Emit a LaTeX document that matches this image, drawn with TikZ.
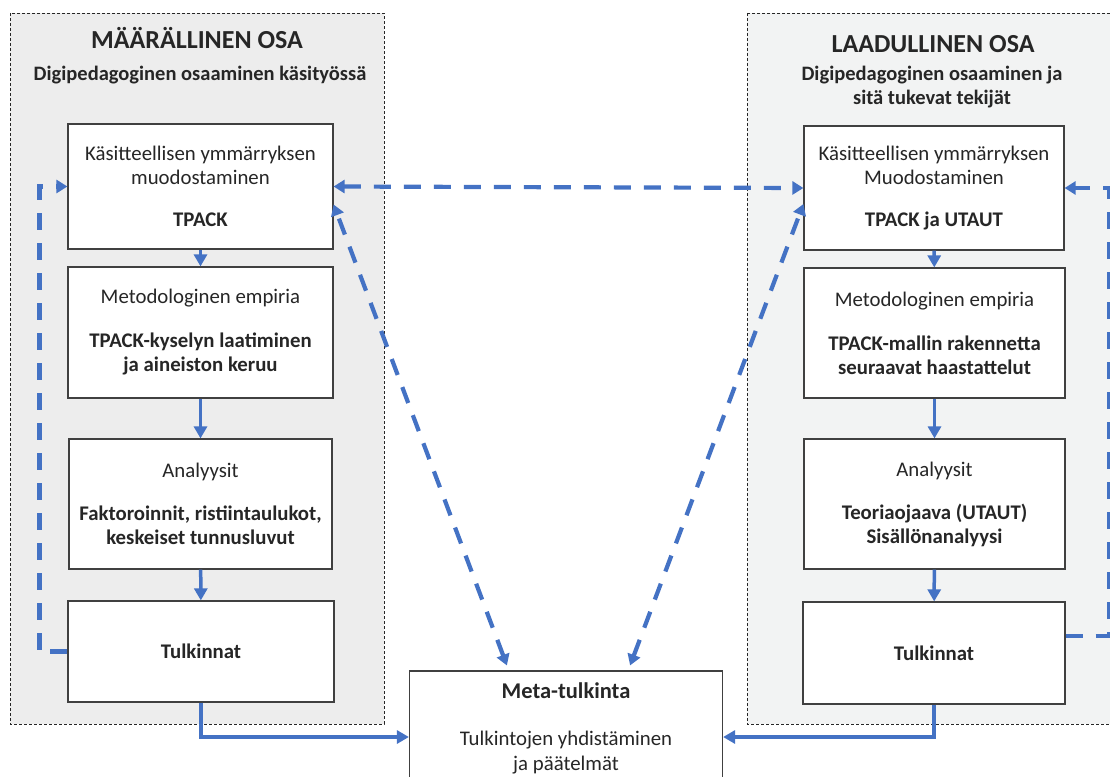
\documentclass[tikz,border=0pt]{standalone}
\usepackage{fontspec}
\setmainfont{Carlito}
\usetikzlibrary{arrows.meta}
\definecolor{flowblue}{HTML}{4472C4}
\definecolor{boxline}{HTML}{404040}
\definecolor{txt}{HTML}{262626}
\definecolor{panelL}{HTML}{EDEDED}
\definecolor{panelR}{HTML}{F2F3F3}
\begin{document}
\begin{tikzpicture}[x=1pt,y=-1pt,
  panel/.style={draw=black!85, line width=0.8pt, dash pattern=on 3pt off 2pt},
  stagebox/.style={draw=boxline, fill=white, line width=1.2pt, inner sep=0pt,
    align=center, text=txt, font=\fontsize{20.8}{24}\selectfont},
  title/.style={font=\bfseries\fontsize{26}{30}\selectfont, text=txt},
  subtitle/.style={font=\bfseries\fontsize{20.5}{23.5}\selectfont, text=txt, align=center},
  flow/.style={draw=flowblue, line width=3.5pt, -{Triangle[length=12pt,width=13pt]}},
  feed/.style={draw=flowblue, line width=4.2pt, dash pattern=on 17pt off 13pt,
    -{Triangle[length=11pt,width=13pt]}},
  feedboth/.style={feed, {Triangle[length=11pt,width=13pt]}-{Triangle[length=11pt,width=13pt]}}
]
\useasboundingbox (0,0) rectangle (1110,776);
\clip (0,0) rectangle (1110,776);

% panels
\filldraw[panel, fill=panelL] (10,13) rectangle (384,724);
\filldraw[panel, fill=panelR] (747,13) rectangle (1130,724);

% panel headings
\node[title] (tL) at (197,38) {MÄÄRÄLLINEN OSA};
\node[subtitle] (sL) at (200,75) {Digipedagoginen osaaminen käsityössä};
\node[title] (tR) at (933,44) {LAADULLINEN OSA};
\node[subtitle] (sR) at (932,87) {Digipedagoginen osaaminen ja\\sitä tukevat tekijät};

% quantitative stages
\node[stagebox, minimum width=265, minimum height=125] (L1) at (200.5,186.5)
  {Käsitteellisen ymmärryksen\\muodostaminen\\[18pt]\textbf{TPACK}};
\node[stagebox, minimum width=265, minimum height=131] (L2) at (200.5,332.5)
  {Metodologinen empiria\\[20pt]\textbf{TPACK-kyselyn laatiminen}\\\textbf{ja aineiston keruu}};
\node[stagebox, minimum width=263, minimum height=130] (L3) at (200.5,504)
  {Analyysit\\[19pt]\textbf{Faktoroinnit, ristiintaulukot,}\\\textbf{keskeiset tunnusluvut}};
\node[stagebox, minimum width=266, minimum height=101] (L4) at (201,651.5)
  {\textbf{Tulkinnat}};

% qualitative stages
\node[stagebox, minimum width=260, minimum height=124] (R1) at (934,188)
  {Käsitteellisen ymmärryksen\\Muodostaminen\\[18pt]\textbf{TPACK ja UTAUT}};
\node[stagebox, minimum width=261, minimum height=130] (R2) at (934.5,333)
  {Metodologinen empiria\\[20pt]\textbf{TPACK-mallin rakennetta}\\\textbf{seuraavat haastattelut}};
\node[stagebox, minimum width=261, minimum height=130] (R3) at (934.5,504)
  {Analyysit\\[19pt]\textbf{Teoriaojaava (UTAUT)}\\\textbf{Sisällönanalyysi}};
\node[stagebox, minimum width=262, minimum height=102] (R4) at (934,653)
  {\textbf{Tulkinnat}};

% synthesis
\node[stagebox, minimum width=313, minimum height=132] (meta) at (566,737) {};
\node[align=center, text=txt, font=\fontsize{20.8}{25}\selectfont] (metatxt) at (566,728)
  {{\bfseries\fontsize{22.5}{24}\selectfont Meta-tulkinta}\\[22pt]Tulkintojen yhdistäminen\\ja päätelmät};

% solid flow inside each part
\draw[flow] (L1) -- (L2);
\draw[flow] (L2) -- (L3);
\draw[flow] (L3) -- (L4);
\draw[flow] (R1) -- (R2);
\draw[flow] (R2) -- (R3);
\draw[flow] (R3) -- (R4);
\draw[flow] (L4.south) |- (meta.west);
\draw[flow] (R4.south) |- (meta.east);

% feedback loops and cross links
\draw[feed] (L4.west) -- ++(-28,0) |- (L1.west);
\draw[feed] ([yshift=17pt]R4.east) -- ++(43,0) |- (R1.east);
\draw[feedboth] (L1.east) -- (R1.west);
\draw[feedboth] ([xshift=98pt,yshift=5pt]meta.north west) -- ([yshift=-18pt]L1.east);
\draw[feedboth] ([xshift=-93pt,yshift=5pt]meta.north east) -- ([yshift=-16pt]R1.west);
\end{tikzpicture}
\end{document}
